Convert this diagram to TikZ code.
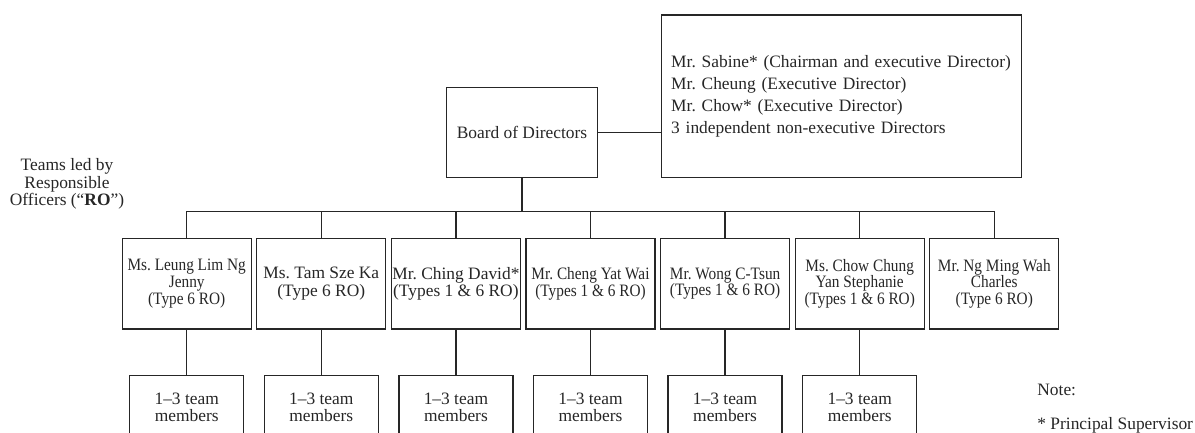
\documentclass[tikz,border=0pt]{standalone}
\usepackage{fontspec}
\setmainfont{Liberation Serif}
\newfontfamily\narrowserif[FakeStretch=0.88]{Liberation Serif}
\usetikzlibrary{positioning}
\frenchspacing

\begin{document}
\begin{tikzpicture}[x=0.5pt, y=-0.5pt,
        every node/.style={text=black!85},
        line/.style={draw=black!85, line width=0.65pt},
        box/.style={line, inner xsep=0.5pt, inner ysep=1pt, align=center,
            font=\fontsize{8.7}{8.7}\selectfont},
        narrow/.style={font=\narrowserif\fontsize{8.7}{8.4}\selectfont},
        robox/.style={box, minimum width=64.5pt, minimum height=45.4pt},
        teambox/.style={box, minimum width=57pt, minimum height=32pt}]
    \useasboundingbox (0,0) rectangle (1195,433);
    \clip (0,0) rectangle (1195,433);

    % board and its members
    \node[box, minimum width=75.8pt, minimum height=45.2pt] (board) at (522,132.5) {Board of Directors};
    \node[line, inner xsep=5pt, text width=170pt, minimum height=81.3pt, align=left,
        font=\fontsize{8.7}{10.85}\selectfont] (dirs) at (841.2,96.3)
        {Mr. Sabine* (Chairman and executive Director)\\
         Mr. Cheung (Executive Director)\\
         Mr. Chow* (Executive Director)\\
         3 independent non-executive Directors};
    \draw[line] (board.east) -- (board.east -| dirs.west);

    \node[align=center, font=\fontsize{8.7}{8.75}\selectfont] (teams) at (67,184)
        {Teams led by\\Responsible\\Officers (``\textbf{RO}'')};

    % responsible officers
    \node[robox, narrow] (ro1) at (186.7,283.7) {Ms. Leung Lim Ng\\Jenny\\(Type 6 RO)};
    \node[robox] (ro2) at (321.3,283.7) {Ms. Tam Sze Ka\\(Type 6 RO)};
    \node[robox] (ro3) at (455.9,283.7) {Mr. Ching David*\\(Types 1 \& 6 RO)};
    \node[robox, narrow] (ro4) at (590.5,283.7) {Mr. Cheng Yat Wai\\(Types 1 \& 6 RO)};
    \node[robox, narrow] (ro5) at (725.1,283.7) {Mr. Wong C-Tsun\\(Types 1 \& 6 RO)};
    \node[robox, narrow] (ro6) at (859.7,283.7) {Ms. Chow Chung\\Yan Stephanie\\(Types 1 \& 6 RO)};
    \node[robox, narrow] (ro7) at (994.3,283.7) {Mr. Ng Ming Wah\\Charles\\(Type 6 RO)};

    \draw[line] (board.south) -- ++(0,33.5) coordinate (bus);
    \foreach \i in {1,...,7}
        \draw[line] (ro\i.north) |- (bus);

    % teams
    \foreach \i in {1,...,6} {
        \node[teambox, below=22.5pt of ro\i] (team\i) {1--3 team\\members};
        \draw[line] (ro\i.south) -- (team\i.north);
    }

    % note
    \node[anchor=west, inner sep=0pt, font=\fontsize{8.7}{8.7}\selectfont] (note) at (1037,390) {Note:};
    \node[anchor=west, inner sep=0pt, font=\fontsize{8.7}{8.7}\selectfont] (psnote) at (1037,425) {* Principal Supervisor};
\end{tikzpicture}
\end{document}
